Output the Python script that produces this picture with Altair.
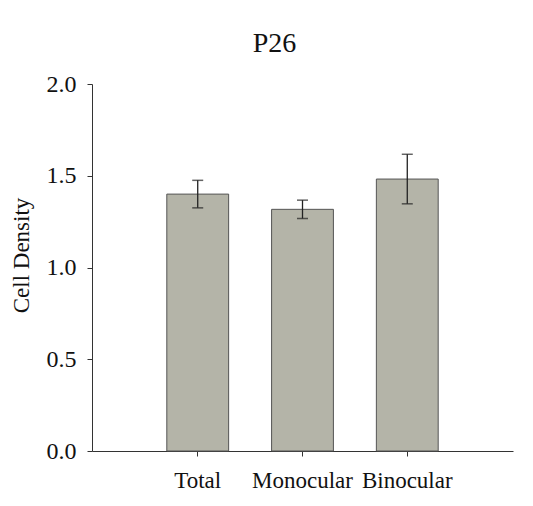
import altair as alt
import pandas as pd

categories = ["Total", "Monocular", "Binocular"]
means = [1.40, 1.317, 1.482]
errors = [0.075, 0.05, 0.135]

df = pd.DataFrame({
    "group": categories,
    "mean": means,
    "lo": [m - e for m, e in zip(means, errors)],
    "hi": [m + e for m, e in zip(means, errors)],
})

FONT = "Liberation Serif"

x_enc = alt.X(
    "group:N",
    sort=categories,
    scale=alt.Scale(paddingInner=0.41, paddingOuter=0.714),
    axis=alt.Axis(
        title=None, labelAngle=0, labelFont=FONT, labelFontSize=23,
        labelColor="#111", labelPadding=13, tickSize=5, tickColor="#333",
        domainColor="#333", grid=False,
    ),
)

y_scale = alt.Scale(domain=[0, 2], nice=False)

bars = alt.Chart(df).mark_bar(color="#b4b4a8", stroke="#555", strokeWidth=1).encode(
    x=x_enc,
    y=alt.Y(
        "mean:Q", scale=y_scale,
        axis=alt.Axis(
            title="Cell Density", values=[0, 0.5, 1.0, 1.5, 2.0], format=".1f",
            labelFont=FONT, labelFontSize=24, labelColor="#111", labelPadding=11,
            tickSize=5, tickColor="#333", domainColor="#333", grid=False,
            titleFont=FONT, titleFontSize=23, titleFontWeight="normal", titleColor="#111",
            titleAngle=270, titleX=-71, titleY=171, titleAlign="center",
            titleBaseline="middle",
        ),
    ),
)

rules = alt.Chart(df).mark_rule(color="#222", strokeWidth=1.3).encode(
    x=alt.X("group:N", sort=categories),
    y=alt.Y("lo:Q", scale=y_scale),
    y2="hi:Q",
)

caps_hi = alt.Chart(df).mark_tick(color="#222", thickness=1.5, size=11).encode(
    x=alt.X("group:N", sort=categories),
    y=alt.Y("hi:Q", scale=y_scale),
)
caps_lo = alt.Chart(df).mark_tick(color="#222", thickness=1.5, size=11).encode(
    x=alt.X("group:N", sort=categories),
    y=alt.Y("lo:Q", scale=y_scale),
)

chart = alt.layer(bars, rules, caps_hi, caps_lo).properties(
    width=421,
    height=367,
    title=alt.TitleParams(
        "P26", font=FONT, fontSize=28, fontWeight="normal", color="#111",
        anchor="middle", dx=-28, dy=36, offset=22, baseline="bottom",
    ),
    autosize=alt.AutoSizeParams(type="none"),
    padding={"left": 92, "top": 84, "right": 20, "bottom": 55},
    background="white",
).configure_view(stroke=None)

chart.save("out.html", embed_options={"renderer": "svg", "actions": False})
